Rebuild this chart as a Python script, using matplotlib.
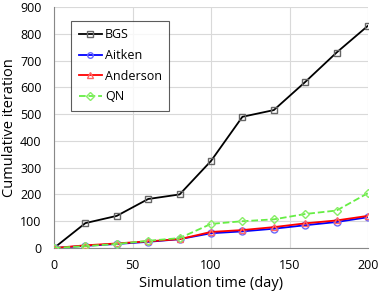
import matplotlib
matplotlib.use("Agg")
import matplotlib.pyplot as plt

plt.rcParams['font.family'] = ['Open Sans', 'DejaVu Sans']

time = [0, 20, 40, 60, 80, 100, 120, 140, 160, 180, 200]
bgs = [0, 93, 120, 183, 200, 325, 490, 515, 620, 730, 830]
aitken = [0, 8, 15, 23, 33, 55, 62, 72, 85, 97, 115]
anderson = [0, 10, 17, 25, 33, 60, 67, 78, 92, 103, 120]
qn = [0, 7, 15, 27, 37, 90, 100, 107, 127, 140, 205]

fig = plt.figure(figsize=(3.81, 2.98), dpi=100)
ax = fig.add_axes([54/381, 1-248/298, (368-54)/381, (248-7)/298])

ms = 5
ax.plot(time, bgs, color='black', lw=1.3, marker='s', mfc='none', mec='#666666', ms=ms, label='BGS', zorder=3)
ax.plot(time, aitken, color='blue', lw=1.3, marker='o', mfc='none', mec='#6666ff', ms=ms, label='Aitken', zorder=3)
ax.plot(time, anderson, color='red', lw=1.3, marker='^', mfc='none', mec='#ff6666', ms=ms, label='Anderson', zorder=3)
ax.plot(time, qn, color='#66ee44', lw=1.3, ls='--', marker='D', mfc='none', mec='#88ee66', ms=4.5, label='QN', zorder=3)

ax.set_xlim(0, 200)
ax.set_ylim(0, 900)
ax.set_xticks([0, 50, 100, 150, 200])
ax.set_yticks(range(0, 901, 100))
ax.grid(True, color='#d9d9d9', lw=0.8)
ax.set_axisbelow(True)
for s in ['top', 'right']:
    ax.spines[s].set_visible(False)
for s in ['left', 'bottom']:
    ax.spines[s].set_color('#888888')
    ax.spines[s].set_linewidth(0.8)
ax.tick_params(axis='both', labelsize=9, length=0)
ax.tick_params(axis='y', pad=9)
ax.tick_params(axis='x', pad=8)
ax.set_xlabel('Simulation time (day)', fontsize=10.5, labelpad=3)
ax.set_ylabel('Cumulative iteration', fontsize=10.5, labelpad=2)

leg = ax.legend(loc='upper left', bbox_to_anchor=((71-54)/314, (248-21)/241), fontsize=9,
                frameon=True, fancybox=False, edgecolor='#333333', handlelength=1.9,
                handletextpad=0.2, borderpad=0.6, labelspacing=0.6, borderaxespad=0,
                markerscale=0.8)
leg.get_frame().set_linewidth(0.8)

fig.savefig('out.png', dpi=100)
